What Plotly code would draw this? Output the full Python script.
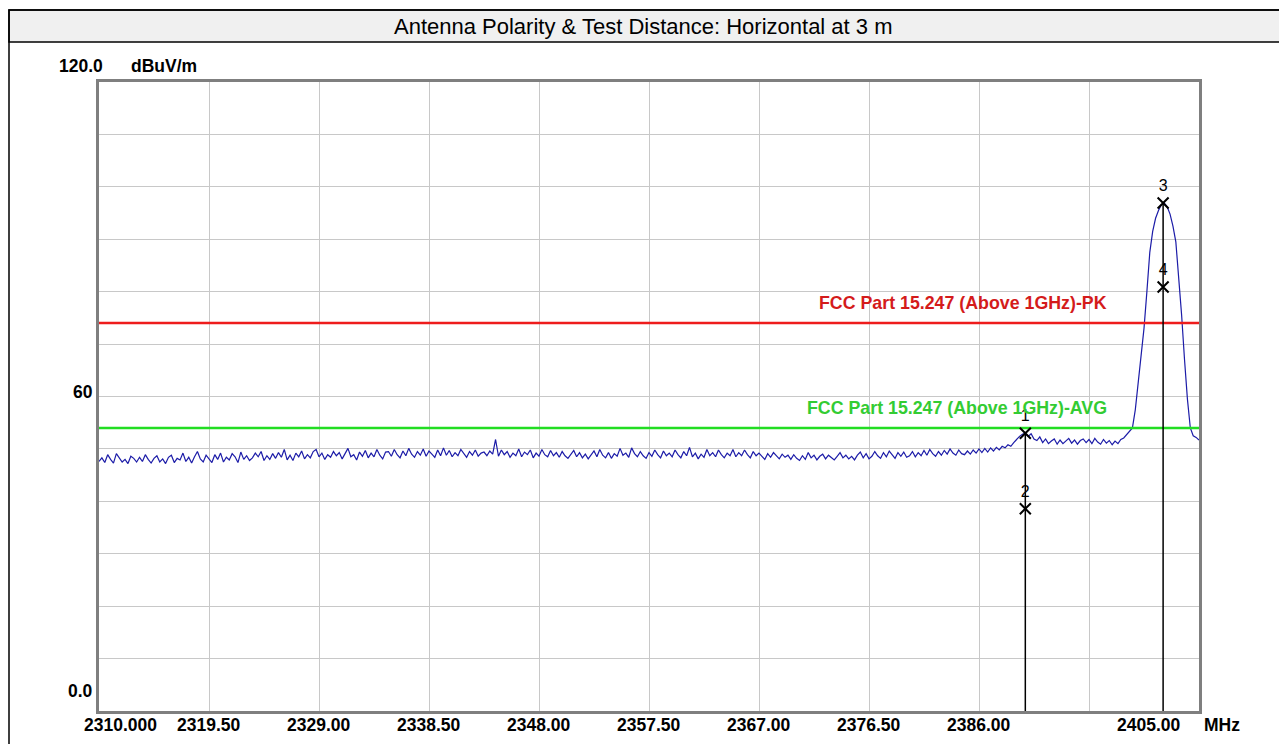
import numpy as np
import plotly.graph_objects as go

# ---------------- data ----------------
title_text = "Antenna Polarity & Test Distance: Horizontal at 3 m"
f_start, f_stop, f_step = 2310.0, 2405.0, 0.25
x_tick_values = [2310.0, 2319.5, 2329.0, 2338.5, 2348.0, 2357.5, 2367.0, 2376.5, 2386.0, 2395.5, 2405.0]
x_tick_labels = ["2310.000", "2319.50", "2329.00", "2338.50", "2348.00", "2357.50",
                 "2367.00", "2376.50", "2386.00", "", "2405.00"]
y_tick_values = [120.0, 60.0, 0.0]
y_tick_labels = ["120.0", "60", "0.0"]

# measured level (dBuV/m), 0.25 MHz steps, 2310.00 ... 2405.00
level = [
    47.6, 48.3, 47.4, 48.9, 48.0, 47.3, 49.1, 48.2, 47.5, 48.0, 47.2, 48.6, 48.2, 47.5, 48.4, 47.6, 48.9, 48.0, 47.3, 48.2,
    48.7, 47.5, 48.1, 47.2, 48.4, 48.8, 47.4, 48.2, 47.9, 49.2, 47.6, 48.4, 47.3, 48.5, 49.5, 48.1, 47.5, 48.8, 48.0, 47.4,
    48.9, 48.0, 49.2, 47.5, 48.4, 47.9, 49.1, 48.5, 47.4, 49.4, 48.0, 48.7, 47.8, 48.3, 49.2, 48.5, 49.5, 47.8, 48.7, 48.0,
    49.1, 48.2, 49.3, 48.4, 49.9, 47.9, 48.8, 47.8, 49.2, 48.5, 49.6, 48.1, 48.9, 48.3, 49.5, 49.9, 48.5, 49.2, 48.0, 48.9,
    48.4, 49.5, 48.7, 49.3, 48.1, 49.2, 50.1, 48.5, 48.9, 47.9, 49.4, 48.6, 49.7, 48.3, 49.2, 48.5, 49.9, 48.8, 48.1, 49.4,
    49.5, 48.6, 49.9, 48.9, 48.3, 49.6, 48.7, 50.1, 49.0, 48.4, 49.5, 48.8, 50.0, 48.6, 49.6, 49.0, 48.4, 49.8, 48.7, 50.2,
    48.8, 49.7, 48.5, 49.3, 48.7, 49.9, 49.1, 48.4, 49.5, 48.8, 49.8, 48.6, 49.2, 49.4, 48.7, 49.6, 49.0, 51.8, 48.6, 49.8,
    48.9, 49.5, 48.4, 49.2, 48.7, 50.0, 48.5, 49.4, 48.9, 49.8, 48.3, 49.2, 48.6, 49.9, 48.9, 48.5, 49.7, 48.7, 49.3, 48.4,
    49.5, 48.7, 48.2, 49.0, 49.7, 48.5, 49.3, 48.3, 49.0, 48.1, 48.8, 49.6, 48.5, 49.9, 48.8, 48.3, 49.3, 48.2, 49.1, 48.6,
    50.1, 48.8, 49.2, 48.4, 50.2, 49.1, 48.5, 49.5, 48.7, 48.2, 49.3, 48.6, 49.8, 48.9, 48.3, 49.6, 48.7, 49.2, 48.5, 49.8,
    48.9, 48.3, 49.5, 48.7, 50.3, 48.5, 49.2, 48.1, 49.0, 48.4, 49.9, 48.7, 49.3, 48.5, 49.8, 48.9, 48.3, 49.2, 48.7, 49.9,
    48.5, 49.3, 48.7, 49.8, 48.9, 48.3, 49.5, 48.7, 49.2, 48.5, 48.0, 49.1, 48.4, 49.3, 48.6, 48.1, 49.0, 48.4, 48.8, 48.0,
    48.9, 48.2, 47.8, 48.7, 48.0, 49.3, 48.3, 48.8, 47.9, 48.6, 49.0, 48.1, 48.8, 48.3, 47.9, 48.6, 49.3, 48.3, 48.8, 48.1,
    48.6, 47.9, 48.8, 49.4, 48.3, 49.1, 48.1, 48.6, 49.5, 48.7, 48.2, 49.3, 48.5, 49.6, 48.8, 48.2, 49.3, 48.6, 49.4, 48.4,
    48.7, 49.5, 48.5, 49.3, 48.7, 49.7, 48.8, 49.9, 49.1, 48.6, 49.5, 48.8, 49.7, 49.0, 50.0, 49.2, 48.8, 49.8, 49.1, 48.9,
    49.6, 49.0, 49.8, 49.2, 50.0, 49.3, 50.1, 49.4, 50.2, 49.6, 50.3, 49.8, 50.5, 50.2, 50.8, 50.5, 51.2, 51.9, 52.4, 52.8,
    53.0, 52.4, 52.9, 51.9, 51.6, 52.3, 51.2, 51.9, 51.0, 51.5, 51.9, 50.9, 51.7, 51.0, 51.6, 52.0, 51.1, 51.7, 50.9, 51.6,
    51.9, 51.2, 51.8, 51.0, 52.0, 51.3, 50.9, 51.8, 51.1, 51.6, 50.8, 51.5, 51.0, 51.8, 52.1, 52.8, 53.5, 54.0, 57.5, 63.0,
    68.5, 73.0, 80.0, 87.5, 91.5, 94.0, 95.5, 96.6, 96.9, 96.2, 94.8, 92.5, 89.5, 83.0, 75.5, 67.0, 59.5, 54.0, 52.5, 52.2,
    51.7,
]

limit_names = ["FCC Part 15.247 (Above 1GHz)-PK", "FCC Part 15.247 (Above 1GHz)-AVG"]
limit_values = [74.0, 54.0]

marker_ids = ["1", "2", "3", "4"]
marker_freq = [2390.0, 2390.0, 2401.9, 2401.9]
marker_level = [53.0, 38.6, 96.9, 80.9]

# ---------------- layout helpers (page pixels; the page body has an 8 px margin) ----------------
OFF = 8
W_PX, H_PX = 1287 - OFF, 744 - OFF
L, R, T, B = 99, 1199, 82, 711          # plot box in page pixels
PW, PH = R - L, B - T

def px_x(px):
    return (px - L) / PW

def px_y(py):
    return 1 - (py - T) / PH

freq = np.round(np.arange(f_start, f_stop + f_step / 2, f_step), 3)

FONT = "Liberation Sans, Arial, sans-serif"
BOLD = dict(family=FONT, size=17.5, color="black", weight="bold")
lim_line_colors = ["#ee1c1c", "#22dd22"]
lim_text_colors = ["#d41b1b", "#33cc33"]

fig = go.Figure()

# measurement trace
fig.add_trace(go.Scatter(x=freq, y=level[:len(freq)], mode="lines",
                         line=dict(color="#1c1ca8", width=1.2), hoverinfo="skip"))

# limit lines
for name, val, lc in zip(limit_names, limit_values, lim_line_colors):
    fig.add_trace(go.Scatter(x=[f_start, f_stop], y=[val, val], mode="lines",
                             line=dict(color=lc, width=2.5), name=name))

# marker drop lines (from the upper marker of each pair down to the axis)
for f_m in sorted(set(marker_freq)):
    top = max(lv for fm, lv in zip(marker_freq, marker_level) if fm == f_m)
    fig.add_trace(go.Scatter(x=[f_m, f_m], y=[top, 0], mode="lines",
                             line=dict(color="black", width=1.5)))

# markers
fig.add_trace(go.Scatter(x=marker_freq, y=marker_level, mode="markers+text",
                         text=marker_ids, textposition="top center",
                         textfont=dict(family=FONT, size=16, color="black"),
                         marker=dict(symbol="x-thin-open", size=11, color="black",
                                     line=dict(color="black", width=2))))

annotations = []
# title
annotations.append(dict(text=title_text, x=px_x(643), y=px_y(26), xref="paper", yref="paper",
                        showarrow=False, xanchor="center", yanchor="middle",
                        font=dict(family=FONT, size=22, color="black")))

# x tick labels
for v, t in zip(x_tick_values, x_tick_labels):
    if not t:
        continue
    shift = 0
    if v == x_tick_values[0]:
        shift = 21
    elif v == x_tick_values[-1]:
        shift = -50
    annotations.append(dict(text=t, x=v, y=px_y(725), xref="x", yref="paper", xshift=shift,
                            showarrow=False, xanchor="center", yanchor="middle", font=BOLD))
annotations.append(dict(text="MHz", x=px_x(1202), y=px_y(725), xref="paper", yref="paper",
                        showarrow=False, xanchor="left", yanchor="middle", font=BOLD))

# y labels
annotations.append(dict(text=y_tick_labels[0], x=px_x(57), y=px_y(66), xref="paper", yref="paper",
                        showarrow=False, xanchor="left", yanchor="middle", font=BOLD))
annotations.append(dict(text="dBuV/m", x=px_x(129), y=px_y(66), xref="paper", yref="paper",
                        showarrow=False, xanchor="left", yanchor="middle", font=BOLD))
annotations.append(dict(text=y_tick_labels[1], x=px_x(95), y=y_tick_values[1], xref="paper", yref="y",
                        yshift=5, showarrow=False, xanchor="right", yanchor="middle", font=BOLD))
annotations.append(dict(text=y_tick_labels[2], x=px_x(95), y=y_tick_values[2], xref="paper", yref="y",
                        yshift=20, showarrow=False, xanchor="right", yanchor="middle", font=BOLD))

# limit labels
for name, val, tc in zip(limit_names, limit_values, lim_text_colors):
    annotations.append(dict(text=name, x=px_x(1109), y=val, xref="paper", yref="y",
                            yshift=20, showarrow=False, xanchor="right", yanchor="middle",
                            font=dict(family=FONT, size=17.8, color=tc, weight="bold")))

shapes = [
    # title bar
    dict(type="rect", xref="paper", yref="paper", x0=px_x(9), x1=px_x(1300), y0=px_y(10), y1=px_y(42),
         fillcolor="#f0f0f0", line=dict(color="black", width=1.5), layer="below"),
    # outer frame
    dict(type="rect", xref="paper", yref="paper", x0=px_x(9), x1=px_x(1300), y0=px_y(10), y1=px_y(780),
         fillcolor="rgba(0,0,0,0)", line=dict(color="black", width=1.5), layer="below"),
]

fig.update_layout(
    width=W_PX, height=H_PX,
    margin=dict(l=L - OFF, r=(W_PX + OFF) - R, t=T - OFF, b=(H_PX + OFF) - B, pad=0),
    paper_bgcolor="white", plot_bgcolor="white",
    showlegend=False,
    annotations=annotations, shapes=shapes,
    xaxis=dict(range=[f_start, f_stop], tick0=f_start, dtick=9.5, showticklabels=False,
               ticks="", showgrid=True, gridcolor="#c8c8c8", gridwidth=1, zeroline=False,
               showline=True, mirror=True, linecolor="#7f7f7f", linewidth=2.5),
    yaxis=dict(range=[0, 120], tick0=0, dtick=10, showticklabels=False, ticks="",
               showgrid=True, gridcolor="#c8c8c8", gridwidth=1, zeroline=False,
               showline=True, mirror=True, linecolor="#7f7f7f", linewidth=2.5),
)

fig.write_html("out.html")
